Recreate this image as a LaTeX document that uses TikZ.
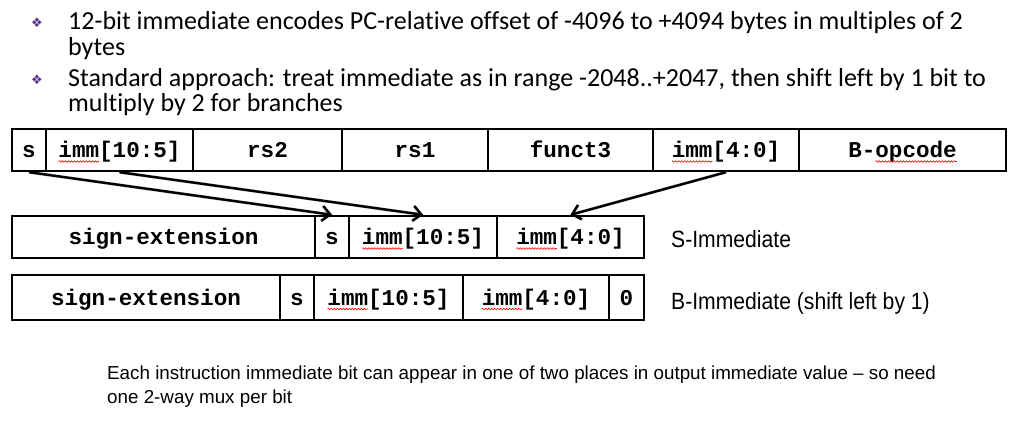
\documentclass[tikz,border=0pt]{standalone}
\usepackage{fontspec}
\usetikzlibrary{arrows.meta,decorations.pathmorphing}
\setmainfont{Carlito}[Ligatures={TeX,NoCommon}]
\newfontfamily\cellfont{Liberation Mono}
\newfontfamily\arialn[FakeStretch=0.9]{Liberation Sans}
\newfontfamily\arial{Liberation Sans}
\newfontfamily\symfont{DejaVu Sans}
\definecolor{bulletpurple}{RGB}{88,48,140}
\newcommand\fieldcell[6]{\node[cell, minimum width={(#3-#2)*1pt}, minimum height=#5] (#1) at ({(#2+#3)/2},#4) {#6};}
% squiggle under chars: node, total chars, first char index, number of chars
\newcommand\squig[4]{\draw[squiggle] ([xshift={(-#2/2+#3)*13.56pt}, yshift=-3.5pt]#1.base) -- ++({#4*13.56},0);}
\tikzset{
  cell/.style={draw, line width=2.4pt, inner sep=0pt, text height=16pt, text depth=0pt, font=\cellfont\bfseries\fontsize{22.6}{26}\selectfont},
  bullettext/.style={anchor=base west, inner sep=0pt, font=\fontsize{26}{26}\selectfont},
  bulletmark/.style={inner sep=0pt, text=bulletpurple, font=\symfont\fontsize{13}{13}\selectfont},
  label/.style={anchor=base west, inner sep=0pt, font=\arialn\fontsize{23.5}{26}\selectfont},
  note/.style={anchor=base west, inner sep=0pt, font=\arial\fontsize{18.8}{24}\selectfont},
  arr/.style={line width=2.4pt, -{Straight Barb[length=8pt,width=15pt]}},
  arrshadow/.style={line width=3pt, draw=black, opacity=0.25, -{Straight Barb[length=8pt,width=15pt]}},
  squiggle/.style={draw=red, line width=0.6pt, decorate, decoration={snake, amplitude=0.8pt, segment length=3pt}}
}
\begin{document}
\begin{tikzpicture}[x=1pt,y=-1pt]
\useasboundingbox (0,0) rectangle (1025,430);
% bullets
\node[bulletmark] (d1) at (37,23) {❖};
\node[bulletmark] (d2) at (37,80) {❖};
\node[bullettext] (t1) at (68,30) {12-bit immediate encodes PC-relative offset of -4096 to +4094 bytes in multiples of 2};
\node[bullettext] (t1b) at (68,56) {bytes};
\node[bullettext] (t2) at (68,87) {Standard approach: treat immediate as in range -2048..+2047, then shift left by 1 bit to};
\node[bullettext] (t2b) at (68,112) {multiply by 2 for branches};
% instruction row
\fieldcell{ts}{12}{46}{150}{42pt}{s}
\fieldcell{thi}{46}{193}{150}{42pt}{imm[10:5]}
\fieldcell{trs2}{193}{342}{150}{42pt}{rs2}
\fieldcell{trs1}{342}{488}{150}{42pt}{rs1}
\fieldcell{tf3}{488}{653}{150}{42pt}{funct3}
\fieldcell{tlo}{653}{799}{150}{42pt}{imm[4:0]}
\fieldcell{top}{799}{1006}{150}{42pt}{B-opcode}
% S-immediate row
\fieldcell{sse}{12}{315}{237}{42pt}{sign-extension}
\fieldcell{ss}{315}{349}{237}{42pt}{s}
\fieldcell{shi}{349}{497}{237}{42pt}{imm[10:5]}
\fieldcell{slo}{497}{644}{237}{42pt}{imm[4:0]}
% B-immediate row
\fieldcell{bse}{12}{280}{297.5}{45pt}{sign-extension}
\fieldcell{bs}{280}{314}{297.5}{45pt}{s}
\fieldcell{bhi}{314}{463}{297.5}{45pt}{imm[10:5]}
\fieldcell{blo}{463}{609}{297.5}{45pt}{imm[4:0]}
\fieldcell{bz}{609}{644}{297.5}{45pt}{0}
% spell-check squiggles
\squig{thi}{9}{0}{3}
\squig{tlo}{8}{0}{3}
\squig{top}{8}{2}{6}
\squig{shi}{9}{0}{3}
\squig{slo}{8}{0}{3}
\squig{bhi}{9}{0}{3}
\squig{blo}{8}{0}{3}
% labels
\node[label] (slab) at (671,248) {S-Immediate};
\node[label] (blab) at (671,309) {B-Immediate (shift left by 1)};
\node[note] (n1) at (107,379) {Each instruction immediate bit can appear in one of two places in output immediate value – so need};
\node[note] (n2) at (107,403) {one 2-way mux per bit};
% arrows with soft shadow
\begin{scope}[shift={(2,3)}]
\draw[arrshadow] (ts.south) -- (ss.north);
\draw[arrshadow] (thi.south) -- (shi.north);
\draw[arrshadow] (tlo.south) -- (slo.north);
\end{scope}
\draw[arr] (ts.south) -- (ss.north);
\draw[arr] (thi.south) -- (shi.north);
\draw[arr] (tlo.south) -- (slo.north);
\end{tikzpicture}
\end{document}
